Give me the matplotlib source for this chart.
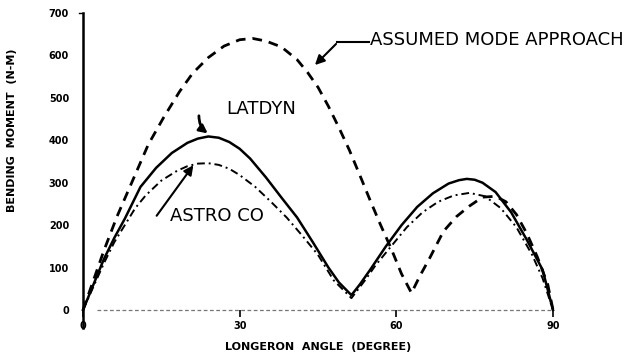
import matplotlib
matplotlib.use("Agg")
import matplotlib.pyplot as plt

# ---- data ----
latdyn_angle = [0, 2, 4, 6, 8, 11, 14, 17, 20, 22, 24, 26, 28, 30, 32, 35, 38, 41, 44, 47, 49, 51.4,
                53, 55, 58, 61, 64, 67, 70, 72, 73.5, 75, 76.5, 79, 82, 85, 88, 90]
latdyn_value = [0, 60, 120, 170, 215, 290, 335, 370, 394, 404, 409, 406, 396, 380, 357, 313, 265, 218, 160, 100, 65, 35,
                60, 95, 150, 200, 243, 275, 298, 306, 309, 307, 300, 278, 230, 165, 95, 0]

astroco_angle = [0, 2, 4, 6, 8, 10, 12, 15, 18, 20, 22, 24, 26, 28, 30, 33, 36, 39, 42, 45, 48, 51.4,
                 54, 56, 59, 62, 65, 68, 71, 74, 77, 80, 83, 86, 88, 90]
astroco_value = [0, 55, 110, 160, 200, 240, 270, 305, 328, 339, 345, 346, 342, 333, 318, 290, 255, 218, 175, 130, 70, 28,
                 70, 105, 150, 195, 230, 255, 270, 276, 268, 240, 195, 130, 75, 0]

assumed_angle = [0, 2, 4, 6.5, 9.5, 12.5, 15.5, 18.5, 21, 24, 27, 30, 32.5, 35, 38, 41, 43, 45, 47, 49,
                 51, 53, 55, 57, 59, 61, 62.9, 64.5, 66.5, 69, 71.5, 74, 76.5, 79, 81, 83, 85, 87, 89, 90]
assumed_value = [0, 70, 140, 220, 305, 390, 455, 515, 558, 595, 622, 637, 640, 634, 620, 590, 560, 525, 480, 430,
                 377, 318, 258, 200, 145, 85, 40, 80, 125, 185, 220, 245, 266, 268, 255, 225, 180, 125, 60, 0]

x_ticks = [0, 30, 60, 90]
y_ticks = [0, 100, 200, 300, 400, 500, 600, 700]

W, H = 632, 358
fig = plt.figure(figsize=(W / 100, H / 100), dpi=100)
fig.patch.set_facecolor("white")

left_px, right_px, top_px, bottom_px = 83, 553, 13, 310
ax = fig.add_axes([left_px / W, 1 - bottom_px / H, (right_px - left_px) / W, (bottom_px - top_px) / H])
ax.set_xlim(0, 90)
ax.set_ylim(0, 700)
for s in ax.spines.values():
    s.set_visible(False)

# left axis line (extends slightly below zero)
ax.plot([0, 0], [-0.06, 1.0], transform=ax.transAxes, color="black", lw=1.8, clip_on=False)
ax.plot([-0.009, 0], [1.0, 1.0], transform=ax.transAxes, color="black", lw=1.0, clip_on=False)
# dotted baseline
ax.plot([0.03, 1.0], [0, 0], transform=ax.transAxes, color="#777777", lw=0.9,
        dashes=(3, 2), clip_on=False)

# curves
ax.plot(assumed_angle, assumed_value, color="black", lw=2.0, dashes=(3.5, 2.5), clip_on=False)
ax.plot(astroco_angle, astroco_value, color="black", lw=1.4, dashes=(4, 2, 1, 2), clip_on=False)
ax.plot(latdyn_angle, latdyn_value, color="black", lw=1.8, clip_on=False)

# ticks
ax.set_xticks(x_ticks)
ax.set_xticklabels([str(v) for v in x_ticks], fontsize=7, fontweight="bold")
ax.set_yticks(y_ticks)
ax.set_yticklabels([str(v) for v in y_ticks], fontsize=7, fontweight="bold")
ax.tick_params(axis="y", length=0, pad=10)
ax.tick_params(axis="x", length=5, width=1.2, pad=3, direction="out")

ax.set_xlabel("LONGERON  ANGLE  (DEGREE)", fontsize=8, fontweight="bold", labelpad=8)
fig.text(12 / W, 1 - 130 / H, "BENDING  MOMENT  (N-M)", rotation=90, fontsize=8,
         fontweight="bold", ha="center", va="center")

narrow = ["Liberation Sans Narrow", "DejaVu Sans"]

def px(xp, yp):
    return (xp / W, 1 - yp / H)

# ASSUMED MODE APPROACH annotation
fig.text(370 / W, 1 - 40 / H, "ASSUMED MODE APPROACH", fontsize=13, family=narrow,
         ha="left", va="center")
fig.add_artist(plt.Line2D([337 / W, 369 / W], [1 - 42 / H, 1 - 42 / H], color="black", lw=1.5))
ax.annotate("", xy=px(313, 67), xycoords="figure fraction", xytext=px(338, 42),
            textcoords="figure fraction",
            arrowprops=dict(arrowstyle="-|>", color="black", lw=1.5, mutation_scale=14))

# LATDYN annotation
fig.text(226 / W, 1 - 109 / H, "LATDYN", fontsize=13, family=narrow, ha="left", va="center")
ax.annotate("", xy=px(210, 135), xycoords="figure fraction", xytext=px(199, 113),
            textcoords="figure fraction",
            arrowprops=dict(arrowstyle="-|>", color="black", lw=2.0, mutation_scale=12,
                            connectionstyle="arc3,rad=0.3"))

# ASTRO CO annotation
fig.text(170 / W, 1 - 216 / H, "ASTRO CO", fontsize=13, family=narrow, ha="left", va="center")
ax.annotate("", xy=px(195, 163), xycoords="figure fraction", xytext=px(155, 218),
            textcoords="figure fraction",
            arrowprops=dict(arrowstyle="-|>", color="black", lw=1.5, mutation_scale=14))

fig.savefig("out.png", dpi=100, facecolor="white")
